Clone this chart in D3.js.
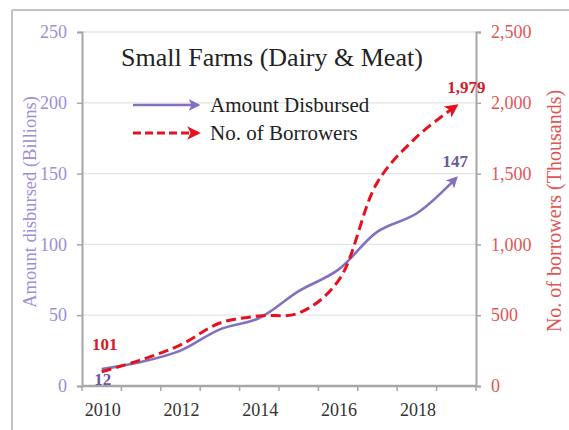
<!DOCTYPE html>
<html>
<head>
<meta charset="utf-8">
<script src="https://cdn.jsdelivr.net/npm/d3@7"></script>
<style>
  html, body { margin: 0; padding: 0; background: #fff; }
  svg { display: block; font-family: "Liberation Serif", "Times New Roman", serif; }
</style>
</head>
<body>
<svg id="chart" width="569" height="430"></svg>
<script>
// Small farms (dairy & meat): amount disbursed vs number of borrowers
const years = [2010, 2011, 2012, 2013, 2014, 2015, 2016, 2017, 2018, 2019];
const amountDisbursed = [12, 17, 25, 40, 48, 67, 82, 109, 122, 147];          // billions
const borrowers = [101, 185, 290, 445, 495, 515, 740, 1440, 1760, 1979];      // thousands
const leftTicks = [0, 50, 100, 150, 200, 250];
const rightTicks = [0, 500, 1000, 1500, 2000, 2500];
const xLabelYears = [2010, 2012, 2014, 2016, 2018];

const svg = d3.select("#chart");
const W = 569, H = 430;
const m = { left: 82, right: 476, top: 32, bottom: 386 };

const purple = "#8470bf";
const purpleText = "#9d8ed6";
const purpleLabel = "#6a5a9e";
const red = "#e5121e";
const redText = "#e05656";
const redLabel = "#d41a2a";
const axisGray = "#a6a6a6";

// frame lines
svg.append("line").attr("x1", 12).attr("x2", W).attr("y1", 10).attr("y2", 10)
  .attr("stroke", "#c2c2c2").attr("stroke-width", 2);
svg.append("line").attr("x1", 12).attr("x2", 12).attr("y1", 10).attr("y2", H)
  .attr("stroke", "#c2c2c2").attr("stroke-width", 2);

const x = d3.scaleBand().domain(years).range([m.left, m.right]);
const xc = d => x(d) + x.bandwidth() / 2;
const yL = d3.scaleLinear().domain([0, 250]).range([m.bottom, m.top]);
const yR = d3.scaleLinear().domain([0, 2500]).range([m.bottom, m.top]);

// gridlines
svg.append("g").selectAll("line").data(leftTicks.filter(t => t > 0)).join("line")
  .attr("x1", m.left).attr("x2", m.right)
  .attr("y1", d => yL(d)).attr("y2", d => yL(d))
  .attr("stroke", "#e4e4e4").attr("stroke-width", 1.3);

// left axis
const gL = svg.append("g").attr("transform", `translate(${m.left},0)`)
  .call(d3.axisLeft(yL).tickValues(leftTicks).tickSize(5).tickPadding(10));
gL.select(".domain").attr("stroke", axisGray).attr("stroke-width", 2);
gL.selectAll(".tick line").attr("stroke", axisGray).attr("stroke-width", 1.5);
gL.selectAll("text").attr("fill", purpleText).attr("font-size", 18)
  .attr("font-family", "Liberation Serif, serif");

// right axis
const gR = svg.append("g").attr("transform", `translate(${m.right},0)`)
  .call(d3.axisRight(yR).tickValues(rightTicks).tickSize(5).tickPadding(10)
    .tickFormat(d3.format(",")));
gR.select(".domain").attr("stroke", axisGray).attr("stroke-width", 2);
gR.selectAll(".tick line").attr("stroke", axisGray).attr("stroke-width", 1.5);
gR.selectAll("text").attr("fill", redText).attr("font-size", 18)
  .attr("font-family", "Liberation Serif, serif");

// bottom axis: ticks at category boundaries, labels on every other year
const gB = svg.append("g").attr("transform", `translate(0,${m.bottom})`);
gB.append("line").attr("x1", m.left).attr("x2", m.right)
  .attr("stroke", axisGray).attr("stroke-width", 2.5);
const bounds = years.map(d => x(d)).concat([m.right]);
gB.selectAll("line.tk").data(bounds).join("line").attr("class", "tk")
  .attr("x1", d => d).attr("x2", d => d).attr("y1", 0).attr("y2", 5)
  .attr("stroke", axisGray).attr("stroke-width", 1.5);
gB.selectAll("text").data(xLabelYears).join("text")
  .attr("x", d => xc(d) + 1).attr("y", 30)
  .attr("text-anchor", "middle").attr("font-size", 18).attr("fill", "#333")
  .text(d => d);

// axis titles
svg.append("text")
  .attr("transform", "translate(36,202) rotate(-90)")
  .attr("text-anchor", "middle").attr("font-size", 18.5).attr("fill", purpleText)
  .text("Amount disbursed (Billions)");
svg.append("text")
  .attr("transform", "translate(561,211) rotate(-90)")
  .attr("text-anchor", "middle").attr("font-size", 20).attr("fill", redText)
  .text("No. of borrowers (Thousands)");

// arrow markers
const defs = svg.append("defs");
function arrow(id, color) {
  defs.append("marker").attr("id", id)
    .attr("viewBox", "0 0 10 10").attr("refX", 8).attr("refY", 5)
    .attr("markerWidth", 4.5).attr("markerHeight", 4.5)
    .attr("markerUnits", "strokeWidth").attr("orient", "auto")
    .append("path").attr("d", "M0,0 L10,5 L0,10 L2.5,5 Z").attr("fill", color);
}
arrow("arrP", purple);
arrow("arrR", red);

const curve = d3.curveCatmullRom.alpha(0.5);

// amount disbursed line
svg.append("path")
  .datum(years.map((yr, i) => [xc(yr), yL(amountDisbursed[i])]))
  .attr("d", d3.line().curve(curve))
  .attr("fill", "none").attr("stroke", purple).attr("stroke-width", 2.6)
  .attr("marker-end", "url(#arrP)");

// borrowers line
svg.append("path")
  .datum(years.map((yr, i) => [xc(yr), yR(borrowers[i])]))
  .attr("d", d3.line().curve(curve))
  .attr("fill", "none").attr("stroke", red).attr("stroke-width", 3)
  .attr("stroke-dasharray", "10,5")
  .attr("marker-end", "url(#arrR)");

// value labels at the ends
const last = years.length - 1;
const lbl = (xp, yp, color, txt) => svg.append("text").attr("x", xp).attr("y", yp)
  .attr("text-anchor", "middle").attr("font-size", 17).attr("font-weight", "bold")
  .attr("fill", color).text(txt);
lbl(xc(years[0]) + 1, yL(amountDisbursed[0]) + 16, purpleLabel, amountDisbursed[0]);
lbl(xc(years[0]) + 3, yR(borrowers[0]) - 22, redLabel, borrowers[0]);
lbl(xc(years[last]) - 1, yL(amountDisbursed[last]) - 11, purpleLabel, amountDisbursed[last]);
lbl(xc(years[last]) + 10, yR(borrowers[last]) - 13, redLabel, d3.format(",")(borrowers[last]));

// title
svg.append("text").attr("x", 121).attr("y", 66)
  .attr("font-size", 26).attr("fill", "#222").text("Small Farms (Dairy & Meat)");

// legend
const legend = [
  { name: "Amount Disbursed", color: purple, dash: null, marker: "arrP", w: 2.6, y: 105 },
  { name: "No. of Borrowers", color: red, dash: "8,4", marker: "arrR", w: 3, y: 133 }
];
const lg = svg.append("g");
legend.forEach(d => {
  lg.append("line").attr("x1", 133).attr("x2", 198).attr("y1", d.y).attr("y2", d.y)
    .attr("stroke", d.color).attr("stroke-width", d.w)
    .attr("stroke-dasharray", d.dash).attr("marker-end", `url(#${d.marker})`);
  lg.append("text").attr("x", 210).attr("y", d.y + 7).attr("font-size", 21)
    .attr("fill", "#222").text(d.name);
});
</script>
</body>
</html>
